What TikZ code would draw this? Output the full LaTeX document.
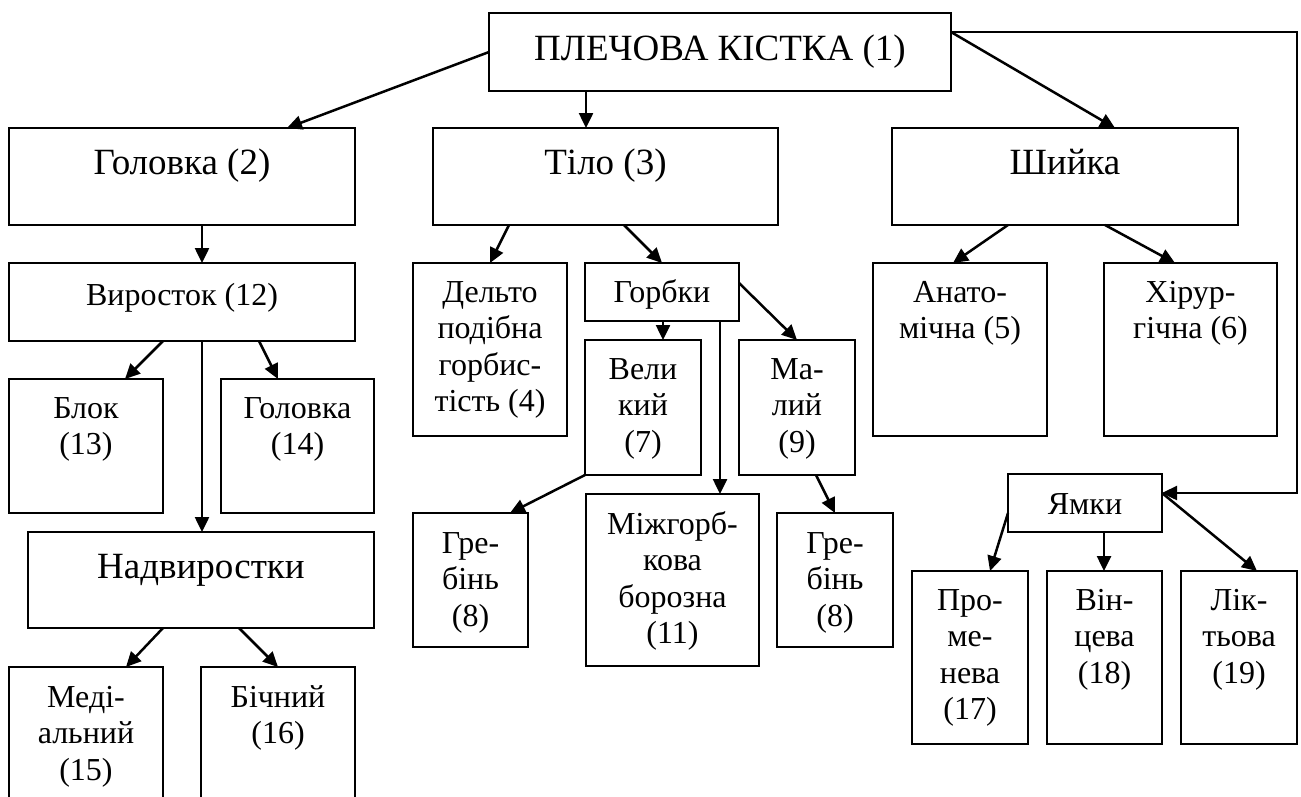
\documentclass[tikz,border=0pt]{standalone}
\usepackage{fontspec}
\setmainfont{Liberation Serif}
\usetikzlibrary{arrows.meta}
\tikzset{
  box/.style={draw, rectangle, line width=2.3pt, inner sep=0pt, outer sep=0pt, anchor=north west},
  arr/.style={line width=2.5pt, -{Triangle[length=15pt,width=14pt]}},
  smalltxt/.style={font=\fontsize{32}{36.5}\selectfont, align=center, inner sep=0pt, anchor=north},
  bigtxt/.style={font=\fontsize{37}{44}\selectfont, align=center, inner sep=0pt, anchor=north},
}
\newcommand{\bx}[5]{\node[box, minimum width=#4pt, minimum height=#5pt] (#1) at (#2,#3) {};}
\newcommand{\stx}[3]{\node[smalltxt] (#1-t) at ([yshift=-#2pt]#1.north) {\strut #3};}
\newcommand{\btx}[3]{\node[bigtxt] (#1-t) at ([yshift=-#2pt]#1.north) {\strut #3};}
\begin{document}
\begin{tikzpicture}[x=1pt,y=-1pt]
\clip (0,0) rectangle (1301,796);
% boxes
\bx{root}{489}{13}{462}{78}
\bx{g2}{9}{128}{346}{97}
\bx{tilo}{433}{128}{345}{97}
\bx{sh}{892}{128}{346}{97}
\bx{vyr}{9}{263}{346}{78}
\bx{blok}{9}{379}{154}{134}
\bx{gol14}{221}{379}{153}{134}
\bx{nadv}{28}{532}{346}{96}
\bx{med}{9}{667}{154}{163}
\bx{bich}{201}{667}{154}{163}
\bx{delt}{413}{263}{154}{173}
\bx{gorb}{585}{263}{154}{58}
\bx{vel}{585}{340}{116}{135}
\bx{mal}{739}{340}{116}{135}
\bx{greb1}{413}{513}{115}{134}
\bx{mizh}{586}{494}{173}{172}
\bx{greb2}{777}{513}{116}{134}
\bx{anat}{873}{263}{174}{173}
\bx{khir}{1104}{263}{173}{173}
\bx{yam}{1008}{474}{154}{58}
\bx{prom}{912}{571}{116}{173}
\bx{vints}{1047}{571}{115}{173}
\bx{likt}{1181}{571}{116}{173}
% texts
\btx{root}{16.2}{ПЛЕЧОВА КІСТКА (1)}
\btx{g2}{15.2}{Головка (2)}
\btx{tilo}{15.2}{Тіло (3)}
\btx{sh}{15.2}{Шийка}
\btx{nadv}{15.2}{Надвиростки}
\stx{vyr}{16.5}{Виросток (12)}
\stx{blok}{13.5}{Блок\\(13)}
\stx{gol14}{13.5}{Головка\\(14)}
\stx{med}{14.5}{Меді-\\альний\\(15)}
\stx{bich}{14.5}{Бічний\\(16)}
\stx{delt}{13.5}{Дельто\\подібна\\горбис-\\тість (4)}
\stx{gorb}{13.5}{Горбки}
\stx{vel}{13.5}{Вели\\кий\\(7)}
\stx{mal}{13.5}{Ма-\\лий\\(9)}
\stx{greb1}{14.5}{Гре-\\бінь\\(8)}
\stx{mizh}{14.5}{Міжгорб-\\кова\\борозна\\(11)}
\stx{greb2}{14.5}{Гре-\\бінь\\(8)}
\stx{anat}{13.5}{Анато-\\мічна (5)}
\stx{khir}{13.5}{Хірур-\\гічна (6)}
\stx{yam}{14.5}{Ямки}
\stx{prom}{13.5}{Про-\\ме-\\нева\\(17)}
\stx{vints}{13.5}{Він-\\цева\\(18)}
\stx{likt}{13.5}{Лік-\\тьова\\(19)}
% connectors
\coordinate (rc) at (1297,32);
\draw[arr] (root.west) -- ([xshift=278pt]g2.north west);
\draw[arr] ([xshift=97pt]root.south west) -- ([xshift=153pt]tilo.north west);
\draw[arr] ([yshift=-19pt]root.north east) -- ([xshift=223pt]sh.north west);
\draw[arr] ([yshift=-19pt]root.north east) -- (rc) |- ([yshift=-19pt]yam.north east);
\draw[arr] ([xshift=193pt]g2.south west) -- ([xshift=193pt]vyr.north west);
\draw[arr] ([xshift=154pt]vyr.south west) -- ([xshift=116pt]blok.north west);
\draw[arr] ([xshift=250pt]vyr.south west) -- ([xshift=57pt]gol14.north west);
\draw[arr] ([xshift=193pt]vyr.south west) -- ([xshift=174pt]nadv.north west);
\draw[arr] ([xshift=135pt]nadv.south west) -- ([xshift=117pt]med.north west);
\draw[arr] ([xshift=211pt]nadv.south west) -- ([xshift=77pt]bich.north west);
\draw[arr] ([xshift=76pt]tilo.south west) -- ([xshift=77pt]delt.north west);
\draw[arr] ([xshift=191pt]tilo.south west) -- ([xshift=77pt]gorb.north west);
\draw[arr] ([xshift=78pt]gorb.south west) -- ([xshift=78pt]vel.north west);
\draw[arr] ([xshift=135pt]gorb.south west) -- ([xshift=134pt]mizh.north west);
\draw[arr] ([yshift=-20pt]gorb.north east) -- ([xshift=58pt]mal.north west);
\draw[arr] (vel.south west) -- ([xshift=97pt]greb1.north west);
\draw[arr] ([xshift=77pt]mal.south west) -- ([xshift=58pt]greb2.north west);
\draw[arr] ([xshift=116pt]sh.south west) -- ([xshift=80pt]anat.north west);
\draw[arr] ([xshift=213pt]sh.south west) -- ([xshift=71pt]khir.north west);
\draw[arr] ([yshift=-39pt]yam.north west) -- ([xshift=78pt]prom.north west);
\draw[arr] ([xshift=96pt]yam.south west) -- ([xshift=57pt]vints.north west);
\draw[arr] ([yshift=-19pt]yam.north east) -- ([xshift=76pt]likt.north west);
\end{tikzpicture}
\end{document}
